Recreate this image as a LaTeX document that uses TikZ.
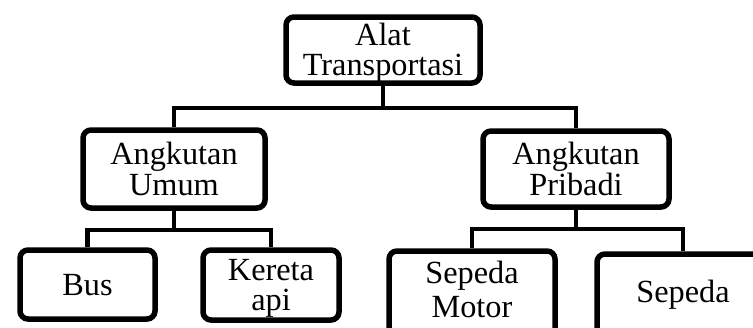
\documentclass[tikz,border=0pt]{standalone}
\usepackage{fontspec}
\setmainfont{Liberation Serif}
% invisible struts that set the height of a first line and the depth of a last line
\newcommand\firstln[1]{\rule{0pt}{#1pt}}
\newcommand\lastln[1]{\rule[-#1pt]{0pt}{#1pt}}
\begin{document}
\begin{tikzpicture}[x=1pt,y=-1pt,
  box/.style={draw=black, line width=5.5pt, rounded corners=8pt, fill=white,
    align=center, inner sep=0pt, font=\fontsize{32.3}{30.5}\selectfont},
  link/.style={draw=black, line width=4.5pt}]
  \useasboundingbox (0,0) rectangle (753,327);
  \clip (0,0) rectangle (753,327);

  % junction points of the tree
  \coordinate (j0) at (383,108);
  \coordinate (j1) at (174,230);
  \coordinate (j2) at (576,229);

  % boxes
  \node[box, minimum width=194pt, minimum height=66pt] (root) at (383,50)
    {\firstln{28}Alat\\Transportasi\lastln{6}};
  \node[box, minimum width=182pt, minimum height=78pt] (umum) at (174,169)
    {\firstln{28}Angkutan\\Umum\lastln{6}};
  \node[box, minimum width=186pt, minimum height=76pt] (pribadi) at (576,169)
    {\firstln{28}Angkutan\\Pribadi\lastln{6}};
  \node[box, minimum width=135pt, minimum height=69pt] (bus) at (87.5,284.5)
    {\firstln{28}Bus\lastln{6}};
  \node[box, minimum width=136pt, minimum height=70pt] (kereta) at (271,285)
    {\firstln{28}Kereta\\api\lastln{6}};
  \node[box, minimum width=166pt, minimum height=92pt] (motor) at (472,297)
    {\firstln{28}Sepeda\\[3.5pt]Motor\lastln{22}};
  \node[box, minimum width=172pt, minimum height=92pt] (sepeda) at (683,300)
    {\firstln{24}Sepeda\lastln{20}};

  % connectors
  \draw[link] (root.south) -- (j0);
  \draw[link] (umum.north) |- (j0) -| (pribadi.north);

  \draw[link] (umum.south) -- (j1);
  \draw[link] (bus.north) |- (j1) -| (kereta.north);

  \draw[link] (pribadi.south) -- (j2);
  \draw[link] (motor.north) |- (j2) -| (sepeda.north);
\end{tikzpicture}
\end{document}
